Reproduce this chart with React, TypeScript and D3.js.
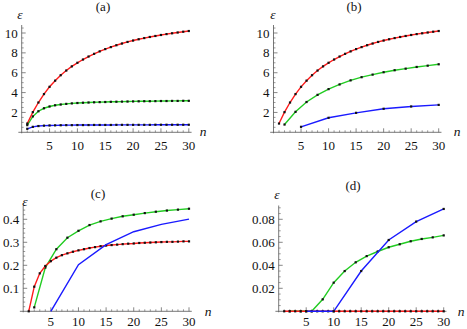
import * as d3 from "d3";

// n values used by the different series
const nAll = [1, 2, 3, 4, 5, 6, 7, 8, 9, 10, 11, 12, 13, 14, 15, 16, 17, 18, 19, 20, 21, 22, 23, 24, 25, 26, 27, 28, 29, 30];
const nEven = [2, 4, 6, 8, 10, 12, 14, 16, 18, 20, 22, 24, 26, 28, 30];
const nFive = [5, 10, 15, 20, 25, 30];

// (a)
const redA = [0.88, 2.03, 3.0, 3.85, 4.58, 5.2, 5.75, 6.22, 6.64, 7.0, 7.33, 7.63, 7.9, 8.15, 8.38, 8.58, 8.77, 8.94, 9.1, 9.24, 9.37, 9.49, 9.6, 9.7, 9.8, 9.89, 9.97, 10.05, 10.13, 10.2];
const greenA = [0.72, 1.6, 2.12, 2.42, 2.6, 2.72, 2.8, 2.86, 2.91, 2.95, 2.98, 3.0, 3.02, 3.04, 3.05, 3.07, 3.08, 3.09, 3.1, 3.11, 3.12, 3.13, 3.13, 3.14, 3.15, 3.15, 3.16, 3.16, 3.17, 3.17];
const blueA = [0.35, 0.55, 0.63, 0.67, 0.69, 0.7, 0.71, 0.72, 0.72, 0.73, 0.73, 0.73, 0.74, 0.74, 0.74, 0.74, 0.75, 0.75, 0.75, 0.75, 0.75, 0.75, 0.75, 0.76, 0.76, 0.76, 0.76, 0.76, 0.76, 0.76];

// (b)
const redB = redA;
const greenB = [0.78, 2.06, 3.05, 3.77, 4.35, 4.82, 5.23, 5.55, 5.81, 6.05, 6.25, 6.41, 6.58, 6.71, 6.85];
const blueB = [0.55, 1.46, 1.96, 2.37, 2.6, 2.76];

// (c)
const redC = [0, 0.107, 0.165, 0.197, 0.218, 0.233, 0.244, 0.252, 0.259, 0.265, 0.27, 0.275, 0.279, 0.283, 0.286, 0.288, 0.29, 0.292, 0.294, 0.295, 0.297, 0.298, 0.299, 0.3, 0.301, 0.302, 0.302, 0.303, 0.304, 0.304];
const greenC = [0.017, 0.19, 0.27, 0.32, 0.35, 0.375, 0.391, 0.403, 0.413, 0.42, 0.427, 0.433, 0.438, 0.442, 0.446];
const blueC = [0, 0.203, 0.29, 0.346, 0.378, 0.401];

// (d)
const redD = [0, 0, 0, 0, 0, 0, 0, 0, 0, 0, 0, 0, 0, 0, 0, 0, 0, 0, 0, 0, 0, 0, 0, 0, 0, 0, 0, 0, 0, 0];
const greenD = [0, 0, 0, 0.0104, 0.0249, 0.035, 0.0426, 0.048, 0.052, 0.0557, 0.0583, 0.0609, 0.0629, 0.0643, 0.066];
const blueD = [0, 0, 0.035, 0.062, 0.078, 0.089];

const xTicks = [5, 10, 15, 20, 25, 30];
const yTicksAB = [2, 4, 6, 8, 10];
const yTicksC = [0.1, 0.2, 0.3, 0.4];
const yTicksD = [0.02, 0.04, 0.06, 0.08];

const RED = "#ff1a1a";
const GREEN = "#22cc22";
const BLUE = "#1a1aff";
const txt = { fontFamily: "Liberation Serif", fill: "#111" };

type Series = { n: number[]; v: number[]; color: string; dots: boolean };

type PanelProps = {
  title: string;
  xRange: [number, number]; // pixel of n=0 and n=30
  yDomain: [number, number];
  yRange: [number, number];
  yTop: number;
  yTicks: number[];
  yMinorStep: number;
  series: Series[];
  titlePos: [number, number];
  epsPos: [number, number];
  nPos: [number, number];
  xLabelY: number;
};

const Panel = (p: PanelProps) => {
  const x = d3.scaleLinear().domain([0, 30]).range(p.xRange);
  const y = d3.scaleLinear().domain(p.yDomain).range(p.yRange);
  const ax = x(0);
  const ay = y(0);
  const line = d3
    .line<[number, number]>()
    .x((d) => x(d[0]))
    .y((d) => y(d[1]));

  const minorX = d3.range(1, 31).filter((v) => v % 5 !== 0);
  const yMax = y.invert(p.yTop);
  const minorY = d3
    .range(p.yMinorStep, yMax, p.yMinorStep)
    .filter((v) => !p.yTicks.some((t) => Math.abs(t - v) < 1e-9));

  return (
    <g>
      <line x1={x(-0.6)} x2={x(30.5)} y1={ay} y2={ay} stroke="#555" strokeWidth={0.8} />
      <line x1={ax} x2={ax} y1={ay + 1} y2={p.yTop} stroke="#555" strokeWidth={0.8} />
      {minorX.map((t) => (
        <line key={"mx" + t} x1={x(t)} x2={x(t)} y1={ay} y2={ay - 2} stroke="#555" strokeWidth={0.6} />
      ))}
      {xTicks.map((t) => (
        <g key={"x" + t}>
          <line x1={x(t)} x2={x(t)} y1={ay} y2={ay - 4} stroke="#555" strokeWidth={0.7} />
          <text x={x(t)} y={p.xLabelY} textAnchor="middle" fontSize={13} style={txt}>
            {t}
          </text>
        </g>
      ))}
      {minorY.map((t) => (
        <line key={"my" + t} x1={ax} x2={ax + 2} y1={y(t)} y2={y(t)} stroke="#555" strokeWidth={0.6} />
      ))}
      {p.yTicks.map((t) => (
        <g key={"y" + t}>
          <line x1={ax} x2={ax + 4} y1={y(t)} y2={y(t)} stroke="#555" strokeWidth={0.7} />
          <text x={ax - 4} y={y(t) + 4.5} textAnchor="end" fontSize={13} style={txt}>
            {String(t)}
          </text>
        </g>
      ))}
      {p.series.map((s, i) => {
        const pts = s.n.map((n, j) => [n, s.v[j]] as [number, number]);
        return (
          <g key={"s" + i}>
            <path d={line(pts) ?? ""} fill="none" stroke={s.color} strokeWidth={1.4} />
            {s.dots &&
              pts.map((d, j) => (
                <rect key={j} x={x(d[0]) - 1.1} y={y(d[1]) - 1.1} width={2.2} height={2.2} fill="#111" />
              ))}
          </g>
        );
      })}
      <text x={p.titlePos[0]} y={p.titlePos[1]} textAnchor="middle" fontSize={13} style={txt}>
        {p.title}
      </text>
      <text x={p.epsPos[0]} y={p.epsPos[1]} textAnchor="middle" fontSize={13.5} fontStyle="italic" style={txt}>
        ε
      </text>
      <text x={p.nPos[0]} y={p.nPos[1]} textAnchor="middle" fontSize={13.5} fontStyle="italic" style={txt}>
        n
      </text>
    </g>
  );
};

export default function App() {
  return (
    <svg width={467} height={329} style={{ position: "absolute", left: 0, top: 0, background: "#fff" }}>
      <Panel
        title="(a)"
        xRange={[21.7, 188.8]}
        yDomain={[0, 10]}
        yRange={[132.3, 33]}
        yTop={25}
        yTicks={yTicksAB}
        yMinorStep={0.5}
        series={[
          { n: nAll, v: greenA, color: GREEN, dots: true },
          { n: nAll, v: redA, color: RED, dots: true },
          { n: nAll, v: blueA, color: BLUE, dots: true },
        ]}
        titlePos={[103, 11]}
        epsPos={[20, 19]}
        nPos={[203, 136]}
        xLabelY={150}
      />
      <Panel
        title="(b)"
        xRange={[273.5, 438.7]}
        yDomain={[0, 10]}
        yRange={[132.3, 33]}
        yTop={25}
        yTicks={yTicksAB}
        yMinorStep={0.5}
        series={[
          { n: nEven, v: greenB, color: GREEN, dots: true },
          { n: nAll, v: redB, color: RED, dots: true },
          { n: nFive, v: blueB, color: BLUE, dots: true },
        ]}
        titlePos={[354, 11]}
        epsPos={[273, 19]}
        nPos={[457, 136]}
        xLabelY={150}
      />
      <Panel
        title="(c)"
        xRange={[23.2, 189]}
        yDomain={[0, 0.4]}
        yRange={[311.3, 219.3]}
        yTop={205.5}
        yTicks={yTicksC}
        yMinorStep={0.02}
        series={[
          { n: nEven, v: greenC, color: GREEN, dots: true },
          { n: nAll, v: redC, color: RED, dots: true },
          { n: nFive, v: blueC, color: BLUE, dots: false },
        ]}
        titlePos={[98, 198]}
        epsPos={[25, 206]}
        nPos={[208, 316]}
        xLabelY={325.5}
      />
      <Panel
        title="(d)"
        xRange={[278.7, 443.7]}
        yDomain={[0, 0.08]}
        yRange={[311.3, 219.3]}
        yTop={205.5}
        yTicks={yTicksD}
        yMinorStep={0.005}
        series={[
          { n: nEven, v: greenD, color: GREEN, dots: true },
          { n: nAll, v: redD, color: RED, dots: true },
          { n: nFive, v: blueD, color: BLUE, dots: true },
        ]}
        titlePos={[353, 190]}
        epsPos={[277, 199]}
        nPos={[461, 316]}
        xLabelY={325.5}
      />
    </svg>
  );
}
